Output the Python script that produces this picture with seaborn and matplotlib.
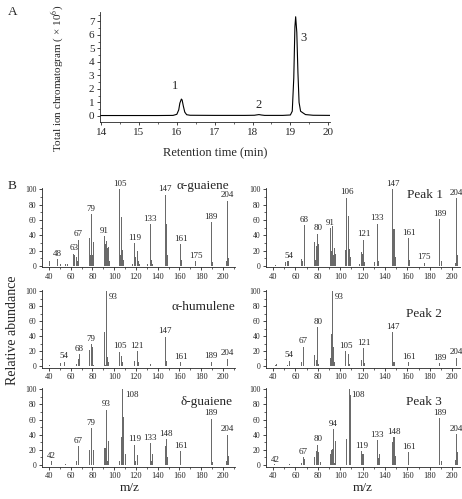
import numpy as np
import pandas as pd
import matplotlib
matplotlib.use("Agg")
import matplotlib.pyplot as plt
from matplotlib.ticker import MultipleLocator
import seaborn as sns

# ---- Panel A: total ion chromatogram (x 10^6) ----
rt_min = [13.95, 14.5, 15.0, 15.5, 15.9, 16.0, 16.05, 16.08, 16.12, 16.14,
          16.17, 16.21, 16.26, 16.35, 17.0, 17.8, 18.05, 18.12, 18.17, 18.23,
          18.32, 18.8, 19.0, 19.05, 19.09, 19.12, 19.14, 19.17, 19.2, 19.23,
          19.27, 19.32, 19.4, 19.6, 20.05]
tic = [0.03, 0.03, 0.03, 0.03, 0.04, 0.12, 0.45, 0.95, 1.25, 1.18,
       0.75, 0.28, 0.09, 0.05, 0.04, 0.04, 0.05, 0.08, 0.1, 0.07,
       0.04, 0.04, 0.07, 0.35, 2.8, 6.6, 7.35, 6.2, 3.2, 1.0,
       0.35, 0.25, 0.1, 0.05, 0.04]
peak_ids = ["1", "2", "3"]
peak_rt = [15.95, 18.15, 19.35]
peak_lab_y = [1.75, 0.4, 5.3]

# ---- Panel B: mass spectra (m/z, relative abundance) ----
guaiene_a_mz = [41, 48, 51, 53, 55, 57, 63, 64, 65, 66, 67, 77, 78, 79, 80, 81,
                91, 92, 93, 94, 95, 96, 105, 106, 107, 108, 109, 117, 119, 120,
                121, 122, 123, 131, 133, 134, 135, 147, 148, 149, 161, 162,
                175, 189, 190, 203, 204, 205]
guaiene_a_int = [7, 9, 2, 3, 3, 2, 16, 14, 11, 6, 34, 37, 14, 67, 14, 31,
                 39, 28, 33, 24, 25, 6, 100, 14, 64, 21, 8, 2, 30, 12,
                 20, 6, 3, 3, 54, 8, 3, 93, 54, 14, 28, 8,
                 6, 57, 5, 6, 85, 10]
guaiene_a_lab = [48, 63, 67, 79, 91, 105, 119, 133, 147, 161, 175, 189, 204]

peak1_mz = [42, 51, 53, 54, 65, 66, 68, 77, 78, 79, 80, 81, 91, 92, 93, 94,
            95, 96, 105, 106, 107, 108, 109, 117, 119, 120, 121, 122, 131,
            133, 134, 147, 148, 149, 161, 162, 175, 189, 190, 203, 204, 205]
peak1_int = [1, 5, 6, 6, 9, 7, 53, 31, 8, 26, 42, 29, 49, 20, 52, 14,
             23, 15, 21, 89, 65, 22, 12, 2, 18, 16, 34, 5, 5,
             55, 6, 100, 48, 12, 36, 8, 4, 61, 6, 4, 88, 14]
peak1_lab = [54, 68, 80, 91, 106, 121, 133, 147, 161, 175, 189, 204]

humulene_mz = [41, 51, 53, 54, 65, 67, 68, 77, 79, 80, 81, 91, 92, 93, 94, 95,
               105, 107, 108, 119, 121, 122, 133, 147, 148, 161, 189, 204]
humulene_int = [1, 4, 5, 6, 3, 10, 16, 21, 29, 26, 2, 46, 2, 100, 12, 6,
                19, 14, 5, 7, 20, 5, 3, 39, 7, 5, 6, 10]
humulene_lab = [54, 68, 79, 93, 105, 121, 147, 161, 189, 204]

peak2_mz = [42, 43, 53, 55, 65, 67, 77, 79, 80, 81, 91, 92, 93, 94, 95,
            105, 107, 108, 119, 121, 122, 147, 148, 161, 189, 204]
peak2_int = [1, 3, 2, 7, 5, 26, 15, 8, 52, 3, 11, 43, 100, 25, 6,
             20, 16, 3, 8, 24, 4, 45, 6, 5, 4, 11]
peak2_lab = [54, 67, 80, 93, 105, 121, 147, 161, 189, 204]

guaiene_d_mz = [42, 53, 55, 65, 67, 77, 79, 81, 91, 92, 93, 94, 95, 105, 107,
                108, 109, 110, 119, 120, 121, 133, 134, 135, 147, 148, 149,
                161, 189, 190, 203, 204, 205]
guaiene_d_int = [5, 2, 1, 5, 25, 20, 49, 20, 22, 22, 73, 5, 32, 6, 37,
                 100, 63, 14, 27, 5, 13, 29, 6, 14, 25, 34, 10,
                 18, 61, 4, 5, 40, 12]
guaiene_d_lab = [42, 67, 79, 93, 108, 119, 133, 148, 161, 189, 204]

peak3_mz = [41, 55, 65, 67, 68, 77, 79, 80, 81, 82, 91, 92, 93, 94, 95, 96,
            106, 108, 109, 119, 120, 121, 133, 134, 135, 147, 148, 149, 161,
            189, 190, 203, 204, 205]
peak3_int = [1, 2, 3, 10, 8, 10, 19, 27, 17, 4, 14, 20, 21, 47, 3, 32,
             35, 100, 92, 18, 15, 15, 33, 9, 14, 31, 37, 12, 17,
             62, 5, 7, 41, 17]
peak3_lab = [42, 67, 80, 94, 108, 119, 133, 148, 161, 189, 204]

# base peaks whose label sits beside the bar top instead of above it
side_labels = [93, 108]

SERIF = ["Liberation Serif", "DejaVu Serif"]
BAR_COLOUR = "#6a6a6a"


def style_axis(ax, size):
    for side in ("top", "right"):
        ax.spines[side].set_visible(False)
    for side in ("left", "bottom"):
        ax.spines[side].set_linewidth(0.6)
    ax.tick_params(which="major", length=2.5, width=0.6, labelsize=size, pad=1.5)
    ax.tick_params(which="minor", length=1.5, width=0.5)


def plot_chromatogram(ax):
    df = pd.DataFrame({"rt": rt_min, "tic": tic})
    sns.lineplot(data=df, x="rt", y="tic", color="black", lw=0.8, ax=ax)
    for lab, x, y in zip(peak_ids, peak_rt, peak_lab_y):
        ax.text(x, y, lab, fontsize=9, ha="center", va="bottom")
    ax.set_xlim(13.97, 20.05)
    ax.set_ylim(-0.45, 7.7)
    ax.xaxis.set_major_locator(MultipleLocator(1))
    ax.xaxis.set_minor_locator(MultipleLocator(0.5))
    ax.yaxis.set_major_locator(MultipleLocator(1))
    ax.yaxis.set_minor_locator(MultipleLocator(0.5))
    style_axis(ax, 8)
    ax.set_xlabel("Retention time (min)", fontsize=9, labelpad=8)
    ax.set_ylabel("Total ion chromatogram ( \u00d7 10$^6$)", fontsize=8)
    ax.yaxis.set_label_coords(-0.15, 0.40)


def plot_spectrum(ax, mz, inten, labels, title, title_xy, xmax):
    df = pd.DataFrame({"mz": mz, "rel": inten})
    sns.histplot(data=df, x="mz", weights="rel", discrete=True, shrink=0.9,
                 color=BAR_COLOUR, alpha=1, linewidth=0, ax=ax)
    lookup = dict(zip(mz, inten))
    for m in labels:
        h = lookup.get(m, lookup.get(m + 1, 0))
        if m in side_labels and h >= 99:
            ax.annotate(str(m), (m, h), xytext=(1.5, -7), textcoords="offset points",
                        fontsize=6.5, ha="left", va="bottom")
        else:
            ax.annotate(str(m), (m, h), xytext=(0, 1), textcoords="offset points",
                        fontsize=6.5, ha="center", va="bottom",
                        annotation_clip=False)
    ax.text(title_xy[0], title_xy[1], title, fontsize=9.5, ha="right", va="center")
    ax.set_xlim(33.7, xmax)
    ax.set_ylim(-2, 102)
    ax.xaxis.set_major_locator(MultipleLocator(20))
    ax.xaxis.set_minor_locator(MultipleLocator(10))
    ax.yaxis.set_major_locator(MultipleLocator(20))
    ax.yaxis.set_minor_locator(MultipleLocator(10))
    style_axis(ax, 5.5)
    ax.tick_params(axis="x", labelsize=6)
    ax.set_xlabel("")
    ax.set_ylabel("")


def main():
    sns.set_style("ticks")
    plt.rcParams["font.family"] = SERIF
    plt.rcParams["mathtext.fontset"] = "stix"

    fig = plt.figure(figsize=(4.62, 4.99), dpi=100)

    ax_a = fig.add_axes([0.2165, 0.7555, 0.498, 0.2204])
    plot_chromatogram(ax_a)

    rows = [(0.464, 0.160), (0.2635, 0.156), (0.065, 0.158)]
    left_x, left_w = 0.0909, 0.4177
    right_x, right_w = 0.5758, 0.42

    spectra = [
        (guaiene_a_mz, guaiene_a_int, guaiene_a_lab, "\u03b1-guaiene", (206, 104), 211),
        (peak1_mz, peak1_int, peak1_lab, "Peak 1", (192, 93), 207),
        (humulene_mz, humulene_int, humulene_lab, "\u03b1-humulene", (211, 79), 211),
        (peak2_mz, peak2_int, peak2_lab, "Peak 2", (191, 69), 207),
        (guaiene_d_mz, guaiene_d_int, guaiene_d_lab, "\u03b4-guaiene", (209, 83), 211),
        (peak3_mz, peak3_int, peak3_lab, "Peak 3", (191, 83), 207),
    ]
    for i, (mz, inten, labs, title, txy, xmax) in enumerate(spectra):
        bottom, height = rows[i // 2]
        if i % 2 == 0:
            ax = fig.add_axes([left_x, bottom, left_w, height])
        else:
            ax = fig.add_axes([right_x, bottom, right_w, height])
        plot_spectrum(ax, mz, inten, labs, title, txy, xmax)

    fig.text(0.017, 0.975, "A", fontsize=9.5, va="center")
    fig.text(0.017, 0.627, "B", fontsize=9.5, va="center")
    fig.text(0.026, 0.338, "Relative abundance", fontsize=10, rotation=90,
             ha="center", va="center")
    fig.text(0.281, 0.022, "m/z", fontsize=9.5, ha="center", va="center")
    fig.text(0.784, 0.022, "m/z", fontsize=9.5, ha="center", va="center")

    fig.savefig("out.png", dpi=100)
    plt.close(fig)


if __name__ == "__main__":
    main()
